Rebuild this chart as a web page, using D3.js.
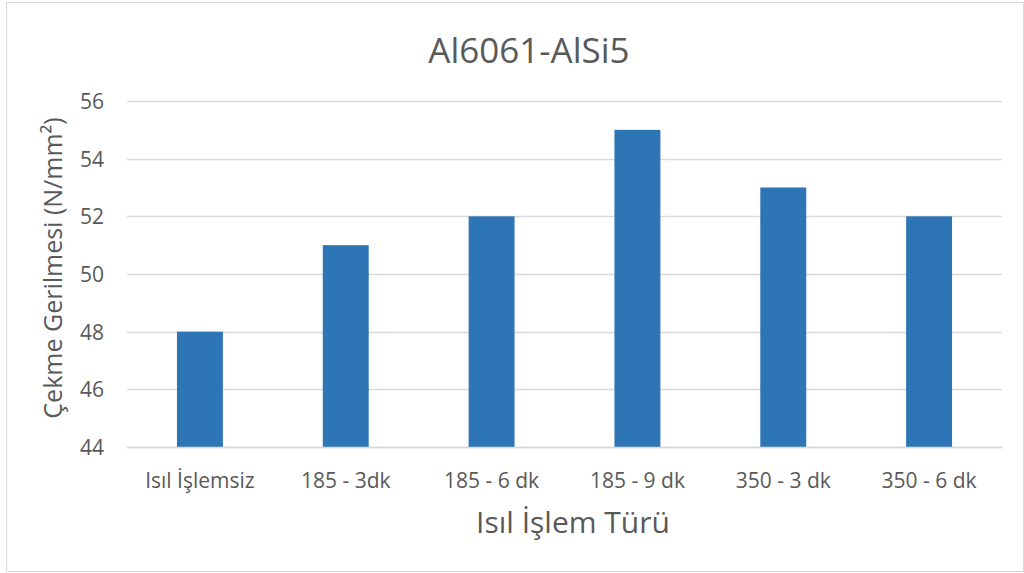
<!DOCTYPE html>
<html><head><meta charset="utf-8">
<script src="https://cdn.jsdelivr.net/npm/d3@7"></script>
<style>body{margin:0;background:#fff;}svg{display:block;font-family:"Open Sans","Liberation Sans",sans-serif;}</style>
</head><body>
<svg id="c" width="1024" height="573"></svg>
<script>
const categories = ["Isıl İşlemsiz","185 - 3dk","185 - 6 dk","185 - 9 dk","350 - 3 dk","350 - 6 dk"];
const values = [48, 51, 52, 55, 53, 52];
const yTicks = [44, 46, 48, 50, 52, 54, 56];
const title = "Al6061-AlSi5";
const xTitle = "Isıl İşlem Türü";
const yTitle = "Çekme Gerilmesi (N/mm²)";
const FONT = '"Open Sans","Liberation Sans",sans-serif';

const svg = d3.select("#c");
svg.append("rect").attr("x",6.5).attr("y",2.5).attr("width",1017).attr("height",569)
  .attr("fill","#fff").attr("stroke","#d9d9d9").attr("stroke-width",1);

const L=127, R=1002, T=101, B=447;
const x = d3.scaleBand().domain(categories).range([L,R]).paddingInner(0.685).paddingOuter(0.3425);
const y = d3.scaleLinear().domain([44,56]).range([B,T]);

const g = svg.append("g");
g.selectAll("line.grid").data(yTicks).join("line").attr("class","grid")
  .attr("x1",L).attr("x2",R).attr("y1",d=>Math.round(y(d))+0.5).attr("y2",d=>Math.round(y(d))+0.5)
  .attr("stroke","#d9d9d9").attr("stroke-width",1.3);

g.selectAll("rect.bar").data(values).join("rect").attr("class","bar")
  .attr("x",(d,i)=>x(categories[i])).attr("width",x.bandwidth())
  .attr("y",d=>y(d)).attr("height",d=>B-y(d)).attr("fill","#2e75b6");

const ya = d3.axisLeft(y).tickValues(yTicks).tickSize(0).tickPadding(0).tickFormat(d3.format("d"));
const yg = svg.append("g").attr("transform",`translate(${L-23},0)`).call(ya).attr("font-family",FONT);
yg.select(".domain").remove();
yg.selectAll("text").attr("fill","#595959").style("font-size","21px").attr("dy","0.36em");

const xa = d3.axisBottom(x).tickSize(0).tickPadding(0);
const xg = svg.append("g").attr("transform",`translate(0,${B})`).call(xa).attr("font-family",FONT);
xg.select(".domain").attr("stroke","#d9d9d9").attr("stroke-width",1.3);
xg.selectAll("text").attr("fill","#595959").style("font-size","21px").attr("y",41).attr("dy",0);

svg.append("text").attr("x",529).attr("y",63).attr("text-anchor","middle")
  .attr("fill","#595959").style("font-size","35px").text(title);
svg.append("text").attr("x",573).attr("y",533).attr("text-anchor","middle")
  .attr("fill","#595959").style("font-size","30px").text(xTitle);
svg.append("text").attr("transform",`translate(62,268) rotate(-90)`).attr("text-anchor","middle")
  .attr("fill","#595959").style("font-size","25px").text(yTitle);
</script>
</body></html>
